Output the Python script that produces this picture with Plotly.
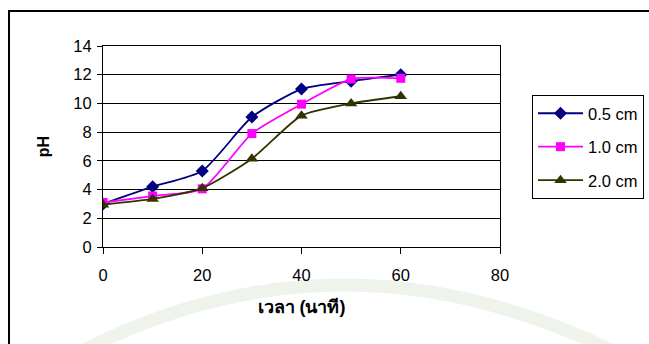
import plotly.graph_objects as go

# Time (minutes) and pH readings for three layer thicknesses
time_min = [0, 10, 20, 30, 40, 50, 60]
ph_05 = [3.0, 4.2, 5.3, 9.05, 11.0, 11.55, 12.0]
ph_10 = [3.1, 3.55, 4.05, 7.9, 9.95, 11.7, 11.75]
ph_20 = [2.95, 3.35, 4.1, 6.15, 9.15, 10.0, 10.5]
series_names = ["0.5 cm", "1.0 cm", "2.0 cm"]

W, H = 649, 344
L, R, T, B = 103, 149, 46, 97
PW, PH = W - L - R, H - T - B


def px(x):
    """pixel column -> paper x"""
    return (x - L) / PW


def py(y):
    """pixel row -> paper y"""
    return (H - B - y) / PH


fig = go.Figure()
styles = [
    ("#000080", "diamond", 10),
    ("#FF00FF", "square", 9),
    ("#333300", "triangle-up", 11),
]
for i, (vals, name) in enumerate(zip([ph_05, ph_10, ph_20], series_names)):
    color, sym, size = styles[i]
    fig.add_trace(go.Scatter(
        x=time_min, y=vals, name=name, mode="lines+markers",
        line=dict(color=color, width=1.8, shape="spline", smoothing=0.6),
        marker=dict(color=color, symbol=sym, size=size),
        legendgroup=name,
    ))

# faint decorative arc in the lower part of the page
arc = (f"M {px(80)},{py(352)} Q {px(340)},{py(218)} {px(615)},{py(352)}")

font = "Liberation Sans, Arial, sans-serif"
fs = 16.5
fig.update_layout(
    width=W, height=H,
    margin=dict(l=L, r=R, t=T, b=B, pad=0, autoexpand=False),
    paper_bgcolor="white", plot_bgcolor="white",
    font=dict(family=font, size=fs, color="black"),
    showlegend=True,
    legend=dict(
        x=px(532), xanchor="left",
        y=py(95), yanchor="top",
        bordercolor="black", borderwidth=1, bgcolor="white",
        font=dict(size=fs), tracegroupgap=9, itemwidth=45,
    ),
    xaxis=dict(
        range=[0, 80], tickvals=[0, 20, 40, 60, 80],
        showgrid=False, zeroline=False,
        showline=True, linecolor="black", linewidth=1, mirror=True,
        ticks="outside", ticklen=6, tickcolor="black",
        tickfont=dict(size=fs), ticklabelstandoff=7,
        title=dict(text="<b>เวลา (นาที)</b>", font=dict(size=18), standoff=17),
    ),
    yaxis=dict(
        range=[0, 14], tickvals=list(range(0, 15, 2)),
        showgrid=True, gridcolor="black", gridwidth=1, zeroline=False,
        showline=True, linecolor="black", linewidth=1, mirror=True,
        ticks="outside", ticklen=5, tickcolor="black",
        tickfont=dict(size=fs), ticklabelstandoff=2,
        title=dict(text="<b>pH</b>", font=dict(size=16), standoff=19),
    ),
    shapes=[
        dict(type="path", xref="paper", yref="paper", path=arc,
             line=dict(color="#eef3ec", width=13), layer="below"),
        dict(type="rect", xref="paper", yref="paper",
             x0=px(9), x1=px(W + 20), y0=py(H + 20), y1=py(11),
             line=dict(color="black", width=2), layer="below"),
    ],
)

fig.write_html("out.html")
